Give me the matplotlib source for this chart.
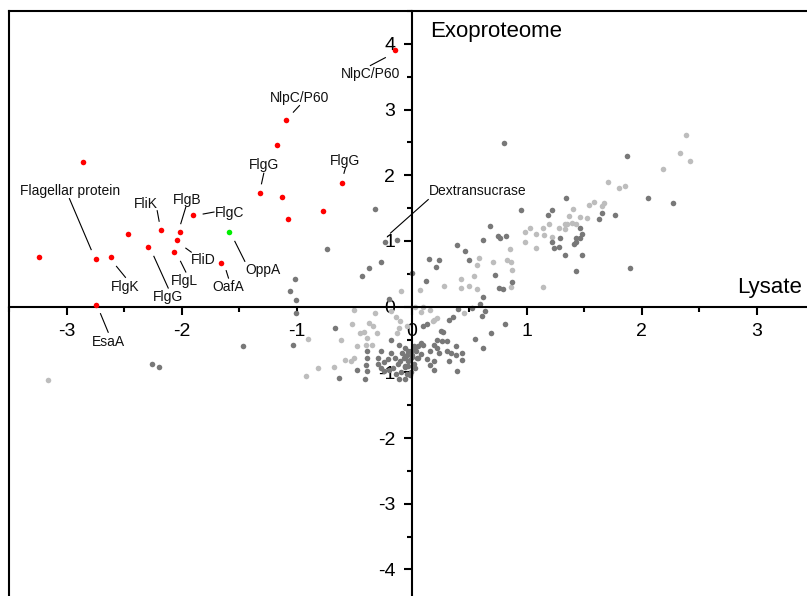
import matplotlib
matplotlib.use("Agg")
import matplotlib.pyplot as plt
from matplotlib.ticker import MultipleLocator, FuncFormatter

plt.rcParams['font.family'] = ['Liberation Sans', 'DejaVu Sans']

# log2 fold change: lysate (x) vs exoproteome (y)
red_x = [-0.15, -1.09, -1.17, -2.86, -0.61, -1.32, -1.13, -0.77, -1.08, -1.90,
         -2.18, -2.02, -2.47, -2.04, -2.29, -2.07, -2.75, -2.62, -3.24, -1.66, -2.75]
red_y = [3.91, 2.84, 2.46, 2.20, 1.88, 1.73, 1.67, 1.45, 1.33, 1.39,
         1.16, 1.13, 1.11, 1.01, 0.91, 0.83, 0.73, 0.75, 0.76, 0.67, 0.03]

green_x = [-1.59]
green_y = [1.13]

dark_pts = [
    (0.80, 2.49), (1.87, 2.30), (2.05, 1.65), (2.27, 1.58), (1.90, 0.59), (1.34, 1.66),
    (0.95, 1.47), (1.18, 1.40), (1.22, 1.47), (1.65, 1.42), (1.63, 1.34), (1.77, 1.39),
    (0.68, 1.22), (0.75, 1.07), (0.77, 1.04), (0.82, 1.07), (0.62, 1.02), (0.39, 0.94),
    (0.46, 0.84), (0.50, 0.71), (0.15, 0.73), (0.24, 0.71), (0.21, 0.61), (0.72, 0.48),
    (0.76, 0.28), (0.79, 0.27), (0.87, 0.37), (0.12, 0.39), (0.00, 0.51), (1.22, 0.98),
    (1.24, 0.89), (1.28, 0.91), (1.29, 1.05), (1.33, 0.78), (1.46, 1.19), (1.48, 1.11),
    (1.46, 1.04), (1.43, 1.04), (1.41, 0.96), (1.43, 0.99), (1.48, 0.78), (1.43, 0.55),
    (0.62, 0.15), (0.59, 0.04), (0.61, -0.14), (0.64, -0.06), (0.40, -0.03), (0.36, -0.15),
    (0.52, -0.02),
    (-0.32, 1.49), (-0.235, 0.99), (-0.13, 1.02), (-0.74, 0.88), (-0.27, 0.68), (-0.37, 0.59),
    (-0.43, 0.47), (-1.02, 0.42), (-1.06, 0.24), (-1.01, 0.10), (-0.20, 0.12), (-1.01, -0.10),
    (-0.67, -0.33), (-1.03, -0.58), (-0.39, -0.67), (-0.39, -0.78), (-0.40, -0.89), (-0.39, -0.98),
    (-0.41, -1.10), (-0.48, -0.965), (-0.63, -1.08), (-1.47, -0.60), (-2.26, -0.87), (-2.20, -0.92),
    (-0.27, -0.68), (-0.29, -0.78), (-0.295, -0.87), (-0.27, -0.94), (-0.24, -0.84), (-0.21, -0.80),
    (-0.185, -0.71), (-0.15, -0.78), (-0.12, -0.87), (-0.24, -0.98), (-0.20, -0.97), (-0.16, -0.93),
    (-0.14, -1.03), (-0.09, -0.99), (-0.06, -0.92), (-0.10, -0.83), (-0.06, -0.76), (-0.035, -0.68),
    (-0.02, -0.81), (0.006, -0.73), (-0.035, -0.91), (-0.005, -0.99), (-0.11, -1.10), (-0.06, -1.10),
    (-0.02, -1.04), (-0.055, -0.63), (-0.085, -0.71), (-0.18, -0.50), (-0.11, -0.58), (0.017, -0.60),
    (0.04, -0.68), (0.05, -0.78),
    (0.25, -0.37), (0.27, -0.39), (0.22, -0.50), (0.26, -0.53), (0.31, -0.52), (0.38, -0.60),
    (0.19, -0.58), (0.22, -0.63), (0.10, -0.30), (0.13, -0.27), (0.08, -0.55), (0.10, -0.58),
    (0.05, -0.60), (0.16, -0.68), (0.235, -0.70), (0.31, -0.68), (0.34, -0.71), (0.38, -0.73),
    (0.44, -0.71), (0.13, -0.79), (0.19, -0.83), (0.16, -0.89), (0.19, -0.97), (0.32, -0.82),
    (0.44, -0.81), (0.39, -0.98), (0.81, -0.27), (0.69, -0.40), (0.55, -0.49), (0.62, -0.63),
    (0.32, -0.21),
    (0.017, -0.63), (-0.01, -0.68), (-0.04, -0.73), (-0.07, -0.78), (-0.03, -0.83), (0.017, -0.88),
    (0.047, -0.78), (0.076, -0.72), (0.003, -0.76), (-0.055, -0.91), (0.03, -0.94), (-0.04, -1.03),
]
dark_x = [p[0] for p in dark_pts]
dark_y = [p[1] for p in dark_pts]

light_pts = [
    (-0.09, 0.24), (0.07, 0.26), (0.28, 0.32), (0.43, 0.42), (0.43, 0.29), (0.50, 0.31),
    (0.565, 0.27), (0.545, 0.47), (0.58, 0.74), (0.57, 0.63), (0.71, 0.68), (0.83, 0.71),
    (0.86, 0.68), (0.87, 0.56), (0.85, 0.87), (0.86, 0.30), (1.14, 0.30), (1.08, 0.89),
    (0.98, 1.13), (0.98, 0.99), (1.03, 1.19), (1.08, 1.10), (1.145, 1.19), (1.19, 1.26),
    (1.15, 1.085), (1.215, 1.06), (1.28, 1.19), (1.33, 1.26), (1.35, 1.26), (1.39, 1.28),
    (1.43, 1.26), (1.33, 1.18), (1.37, 1.385), (1.40, 1.48), (1.46, 1.36), (1.52, 1.35),
    (1.545, 1.54), (1.58, 1.60), (1.67, 1.58), (1.65, 1.53), (1.71, 1.89), (1.80, 1.81),
    (1.85, 1.83), (2.18, 2.09), (2.38, 2.62), (2.33, 2.34), (2.415, 2.22),
    (0.03, 0.0), (0.10, 0.0), (0.08, -0.08), (0.16, -0.05), (0.22, -0.17), (0.19, -0.20),
    (0.18, -0.22), (0.45, -0.10), (-0.04, -0.30),
    (-0.50, -0.05), (-0.32, -0.09), (-0.52, -0.27), (-0.45, -0.40), (-0.42, -0.39), (-0.37, -0.25),
    (-0.34, -0.29), (-0.30, -0.40), (-0.39, -0.48), (-0.62, -0.50), (-0.48, -0.60), (-0.40, -0.58),
    (-0.35, -0.59), (-0.90, -0.49), (-0.58, -0.81), (-0.53, -0.82), (-0.50, -0.78), (-0.68, -0.92),
    (-0.82, -0.93), (-0.92, -1.05), (-0.13, -0.40), (-0.11, -0.33), (-0.10, -0.22), (-0.14, -0.15),
    (-0.185, -0.07), (-3.16, -1.11),
]
light_x = [p[0] for p in light_pts]
light_y = [p[1] for p in light_pts]

# protein labels: (text, text position, leader line start, leader line end, alignment)
labels = [
    ("NlpC/P60", (-0.36, 3.54), (-0.23, 3.79), (-0.36, 3.67), "center"),
    ("NlpC/P60", (-0.98, 3.175), (-1.03, 2.96), (-0.977, 3.06), "center"),
    ("FlgG", (-0.577, 2.22), (-0.59, 2.03), (-0.577, 2.11), "center"),
    ("FlgG", (-1.287, 2.15), (-1.307, 1.87), (-1.287, 2.03), "center"),
    ("FlgC", (-1.716, 1.425), (-1.814, 1.41), (-1.72, 1.44), "left"),
    ("FliK", (-2.31, 1.56), (-2.197, 1.30), (-2.214, 1.46), "center"),
    ("FlgB", (-1.953, 1.62), (-2.009, 1.263), (-1.965, 1.516), "center"),
    ("FliD", (-1.817, 0.705), (-1.965, 0.89), (-1.918, 0.83), "center"),
    ("FlgL", (-1.974, 0.396), (-2.011, 0.69), (-1.965, 0.527), "center"),
    ("FlgG", (-2.118, 0.146), (-2.243, 0.766), (-2.118, 0.283), "center"),
    ("Flagellar protein", (-2.974, 1.766), (-2.788, 0.868), (-2.977, 1.644), "center"),
    ("FlgK", (-2.49, 0.304), (-2.568, 0.613), (-2.49, 0.446), "center"),
    ("OafA", (-1.594, 0.294), (-1.614, 0.548), (-1.594, 0.435), "center"),
    ("OppA", (-1.292, 0.557), (-1.539, 0.994), (-1.452, 0.69), "center"),
    ("EsaA", (-2.635, -0.543), (-2.707, -0.107), (-2.64, -0.39), "center"),
    ("Dextransucrase", (0.148, 1.755), (-0.185, 1.12), (0.143, 1.63), "left"),
]

W, H = 807, 596
fig = plt.figure(figsize=(W / 100, H / 100), dpi=100)
rect = [9.3 / W, (H - 11 - 591.3) / H, 805 / W, 591.3 / H]

# outer frame
frame = fig.add_axes(rect)
frame.set_xlim(-3.5, 3.5)
frame.set_ylim(-4.5, 4.5)
frame.set_xticks([])
frame.set_yticks([])
for sp in frame.spines.values():
    sp.set_linewidth(1.5)

# axes crossing at the origin
ax = fig.add_axes(rect)
ax.patch.set_visible(False)
ax.set_xlim(-3.5, 3.5)
ax.set_ylim(-4.5, 4.5)
ax.spines['left'].set_position(('data', 0))
ax.spines['bottom'].set_position(('data', 0))
ax.spines['right'].set_visible(False)
ax.spines['top'].set_visible(False)
ax.spines['left'].set_linewidth(1.5)
ax.spines['bottom'].set_linewidth(1.5)

for axis in (ax.xaxis, ax.yaxis):
    axis.set_major_locator(MultipleLocator(1))
    axis.set_minor_locator(MultipleLocator(0.5))
    axis.set_major_formatter(FuncFormatter(lambda v, p: f"{int(round(v))}"))
ax.tick_params(which='major', direction='out', length=6, width=1.5, labelsize=14, pad=6)
ax.tick_params(which='minor', direction='out', length=3.5, width=1.5)

ms = 16
ax.scatter(light_x, light_y, s=ms, color='#bdbdbd', linewidths=0, zorder=2)
ax.scatter(dark_x, dark_y, s=ms, color='#787878', linewidths=0, zorder=2)
ax.scatter(red_x, red_y, s=ms, color='#ff0000', linewidths=0, zorder=3)
ax.scatter(green_x, green_y, s=ms, color='#00ee00', linewidths=0, zorder=3)

for text, (tx, ty), (x0, y0), (x1, y1), ha in labels:
    ax.plot([x0, x1], [y0, y1], color='black', lw=0.8, zorder=4)
    ax.text(tx, ty, text, fontsize=10, ha=ha, va='center', color='#111111', zorder=5)

ax.text(0.157, 4.19, "Exoproteome", fontsize=16, ha='left', va='center')
ax.text(3.39, 0.29, "Lysate", fontsize=16, ha='right', va='center')

fig.savefig("out.png", dpi=100)
